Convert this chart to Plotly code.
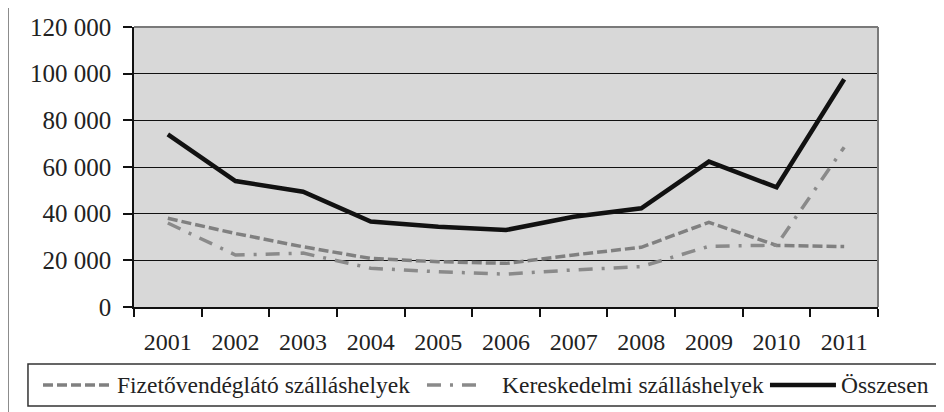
import plotly.graph_objects as go

years = ["2001", "2002", "2003", "2004", "2005", "2006", "2007", "2008", "2009", "2010", "2011"]
fizeto = [38000, 31500, 25800, 20800, 19400, 18700, 22300, 25600, 36300, 26400, 25900]
kereskedelmi = [36000, 22300, 23100, 16600, 15100, 14100, 15900, 17300, 26000, 26500, 68500]
osszesen = [74000, 54000, 49400, 36600, 34400, 33000, 38700, 42300, 62300, 51300, 97600]

names = ["Fizetővendéglátó szálláshelyek", "Kereskedelmi szálláshelyek", "Összesen"]
y_ticks = [0, 20000, 40000, 60000, 80000, 100000, 120000]

FONT = "Liberation Serif"
colors = ["#808080", "#8a8a8a", "#111111"]
dashes = ["10px,4px", "14px,9px,3px,9px", "solid"]
widths = [3.5, 3.5, 4.5]
series = [fizeto, kereskedelmi, osszesen]

fig = go.Figure()
for nm, vals, c, d, w in zip(names, series, colors, dashes, widths):
    fig.add_trace(go.Scatter(x=years, y=vals, name=nm, mode="lines",
                             line=dict(color=c, width=w, dash=d)))

# legend drawn as a framed row below the axis (paper coordinates of the plot area)
leg_y = -0.2786
leg_samples = [(-0.1223, -0.0296), (0.3938, 0.4610), (0.8548, 0.9435)]
leg_text_x = [-0.0255, 0.4919, 0.9476]

shapes = [
    # outer frame line at left of the page
    dict(type="line", xref="paper", yref="paper", x0=-0.1694, x1=-0.1694,
         y0=-0.375, y1=1.07, line=dict(color="#888", width=2)),
    # plot area border (top / right)
    dict(type="line", xref="paper", yref="paper", x0=0, x1=1, y0=1, y1=1,
         line=dict(color="#7a7a7a", width=2)),
    dict(type="line", xref="paper", yref="paper", x0=1, x1=1, y0=0, y1=1,
         line=dict(color="#7a7a7a", width=2)),
    # legend box
    dict(type="rect", xref="paper", yref="paper", x0=-0.1425, x1=1.0820,
         y0=-0.3536, y1=-0.2036, line=dict(color="#333", width=1.5), fillcolor="white"),
]
annotations = []
for (x0, x1), tx, nm, c, d, w in zip(leg_samples, leg_text_x, names, colors, dashes, widths):
    shapes.append(dict(type="line", xref="paper", yref="paper", x0=x0, x1=x1,
                       y0=leg_y, y1=leg_y, line=dict(color=c, width=w, dash=d)))
    annotations.append(dict(xref="paper", yref="paper", x=tx, y=leg_y, text=nm,
                            showarrow=False, xanchor="left", yanchor="middle",
                            font=dict(family=FONT, size=23.5, color="#222")))

# page body has an 8px margin, so the figure is drawn 8px smaller and offset
fig.update_layout(
    template="none",
    width=936, height=404,
    margin=dict(l=126, r=66, t=19, b=105, autoexpand=False),
    paper_bgcolor="white",
    plot_bgcolor="#d8d8d8",
    separators=", ",
    font=dict(family=FONT, size=24, color="#222"),
    showlegend=False,
    shapes=shapes,
    annotations=annotations,
)

fig.update_xaxes(
    type="category", tickson="boundaries", ticks="outside", ticklen=8,
    tickcolor="#111", tickwidth=1.5, showline=True, linecolor="#111", linewidth=1.5,
    showgrid=False, ticklabelstandoff=12, range=[-0.5, 10.5], automargin=False,
    tickfont=dict(family=FONT, size=24, color="#222"),
)
fig.update_yaxes(
    range=[0, 120000], tickvals=y_ticks, tickformat=",d", ticks="outside", ticklen=9,
    tickcolor="#111", tickwidth=1.5, showline=True, linecolor="#111", linewidth=1.5,
    showgrid=True, gridcolor="#111", gridwidth=1.2, zeroline=False,
    ticklabelstandoff=7, automargin=False,
    tickfont=dict(family=FONT, size=25, color="#222"),
)

fig.write_html("out.html")
